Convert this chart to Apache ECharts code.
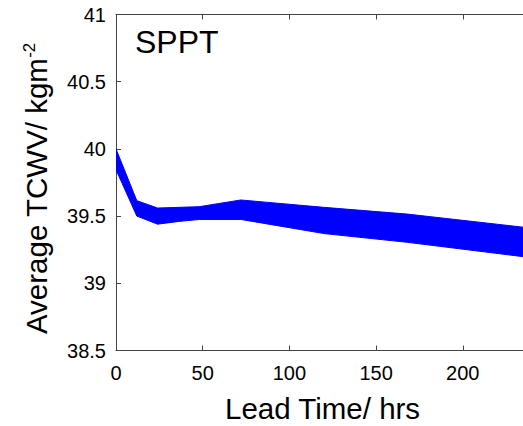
<!DOCTYPE html>
<html>
<head>
<meta charset="utf-8">
<script src="https://cdn.jsdelivr.net/npm/echarts@6/dist/echarts.min.js"></script>
<style>
html,body{margin:0;padding:0;background:#fff;}
#chart{width:523px;height:426px;}
</style>
</head>
<body>
<div id="chart"></div>
<script>
// Lead times (hrs)
var leadTimes = [0, 12, 24, 36, 48, 72, 120, 168, 240];
// Upper edge of ensemble spread (kg m^-2)
var upperTCWV = [40.00, 39.615, 39.56, 39.565, 39.57, 39.62, 39.565, 39.515, 39.41];
// Lower edge of ensemble spread (kg m^-2)
var lowerTCWV = [39.845, 39.50, 39.44, 39.46, 39.475, 39.475, 39.37, 39.305, 39.19];
var panelLabel = 'SPPT';
var xTitle = 'Lead Time/ hrs';
var yTitleMain = 'Average TCWV/ kgm';
var yTitleSup = '-2';

var FONT = 'Liberation Sans, Arial, Helvetica, sans-serif';
var bandData = leadTimes.map(function (t, i) { return [t, lowerTCWV[i], upperTCWV[i]]; });

var chart = echarts.init(document.getElementById('chart'), null, {renderer: 'svg'});
var axisColor = '#444';

function renderBand(params, api) {
  if (params.dataIndex !== 0) return null;
  var pts = [];
  var i;
  for (i = 0; i < leadTimes.length; i++) pts.push(api.coord([leadTimes[i], upperTCWV[i]]));
  for (i = leadTimes.length - 1; i >= 0; i--) pts.push(api.coord([leadTimes[i], lowerTCWV[i]]));
  return {
    type: 'polygon',
    shape: {points: pts},
    style: {fill: '#0000ff', stroke: '#0000ff', lineWidth: 1}
  };
}

chart.setOption({
  animation: false,
  backgroundColor: '#fff',
  grid: {left: 116, top: 14.5, width: 624.2, height: 336, outerBoundsMode: 'none', containLabel: false},
  xAxis: [{
    type: 'value', min: 0, max: 360, interval: 50, position: 'bottom',
    axisLine: {show: true, onZero: false, lineStyle: {color: axisColor, width: 1}},
    axisTick: {show: true, inside: true, length: 5, lineStyle: {color: axisColor}},
    axisLabel: {
      color: '#000', fontSize: 20, fontFamily: FONT, margin: 12,
      formatter: function (v) { return v > 240 ? '' : String(v); }
    },
    splitLine: {show: false}
  }, {
    type: 'value', min: 0, max: 360, interval: 50, position: 'top',
    axisLine: {show: true, onZero: false, lineStyle: {color: axisColor, width: 1}},
    axisTick: {show: true, inside: true, length: 5, lineStyle: {color: axisColor}},
    axisLabel: {show: false},
    splitLine: {show: false}
  }],
  yAxis: [{
    type: 'value', min: 38.5, max: 41, interval: 0.5,
    axisLine: {show: true, onZero: false, lineStyle: {color: axisColor, width: 1}},
    axisTick: {show: true, inside: true, length: 5, lineStyle: {color: axisColor}},
    axisLabel: {color: '#000', fontSize: 20, fontFamily: FONT, margin: 10},
    splitLine: {show: false},
    name: '{m|' + yTitleMain + '}{s|' + yTitleSup + '}',
    nameLocation: 'middle', nameGap: 64, nameRotate: 90,
    nameTextStyle: {
      padding: [0, 12, 0, 0],
      rich: {
        m: {fontSize: 29.5, fontFamily: FONT, color: '#000'},
        s: {fontSize: 17, fontFamily: FONT, color: '#000', verticalAlign: 'top', padding: [0, 0, 14, 0]}
      }
    }
  }],
  series: [{
    type: 'custom',
    renderItem: renderBand,
    data: bandData,
    encode: {x: 0, y: [1, 2]},
    clip: true,
    z: 3
  }],
  graphic: [{
    type: 'text', left: 135, top: 26,
    style: {text: panelLabel, font: '32px ' + FONT, fill: '#000'}
  }, {
    type: 'text', left: 225, top: 393,
    style: {text: xTitle, font: '29.5px ' + FONT, fill: '#000'}
  }]
});
</script>
</body>
</html>
